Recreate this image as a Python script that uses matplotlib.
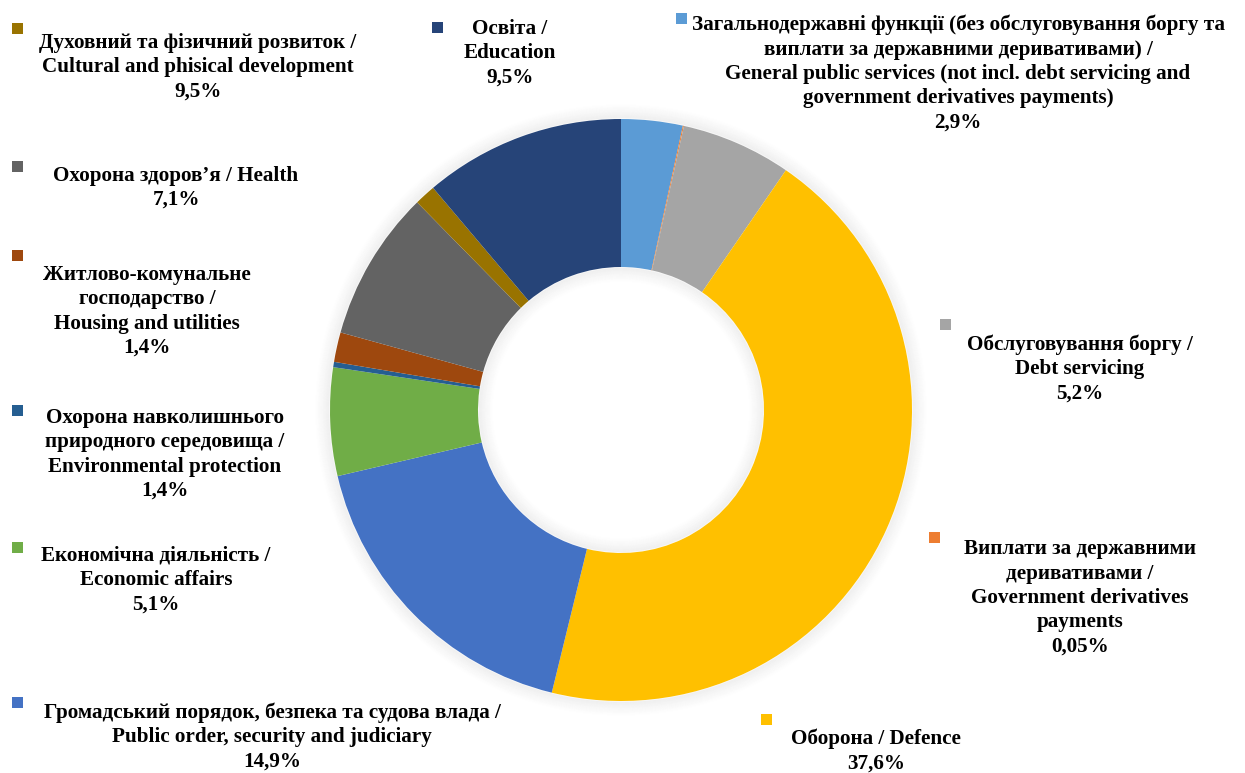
import matplotlib.pyplot as plt
from matplotlib.patches import Circle, Rectangle

# slice shares (as drawn) and the texts shown next to them
categories = ["general", "derivatives", "debt", "defence", "public_order", "economic",
              "environment", "housing", "health", "cultural", "education"]
slice_values = [2.9, 0.05, 5.2, 37.6, 14.9, 5.1, 0.25, 1.4, 7.1, 1.0, 9.5]
colors = ["#5B9BD5", "#ED7D31", "#A5A5A5", "#FFC000", "#4472C4", "#70AD47",
          "#255E91", "#9E480E", "#636363", "#997300", "#264478"]
label_texts = [
    "Загальнодержавні функції (без обслуговування боргу та\nвиплати за державними деривативами) /\nGeneral public services (not incl. debt servicing and\ngovernment derivatives payments)\n2,9%",
    "Виплати за державними\nдеривативами /\nGovernment derivatives\npayments\n0,05%",
    "Обслуговування боргу /\nDebt servicing\n5,2%",
    "Оборона / Defence\n37,6%",
    "Громадський порядок, безпека та судова влада /\nPublic order, security and judiciary\n14,9%",
    "Економічна діяльність /\nEconomic affairs\n5,1%",
    "Охорона навколишнього\nприродного середовища /\nEnvironmental protection\n1,4%",
    "Житлово-комунальне\nгосподарство /\nHousing and utilities\n1,4%",
    "Охорона здоров’я / Health\n7,1%",
    "Духовний та фізичний розвиток /\nCultural and phisical development\n9,5%",
    "Освіта /\nEducation\n9,5%",
]

W, H = 1245, 773
cx, cy, R, r_in = 621, 410, 291, 143
LINE = 24.7

# text centre x, first line y, legend square position (pixels)
text_x = [958, 1080, 1080, 876, 272, 156, 165, 147, 176, 198, 510]
text_y0 = [22, 546, 342, 736, 710, 553, 415, 272, 173, 40, 26]
mark_xy = [(681, 18), (934, 537), (945, 324), (766, 719), (17, 702), (17, 547),
           (17, 410), (17, 255), (17, 166), (17, 28), (437, 27)]

fig = plt.figure(figsize=(W / 100, H / 100), dpi=100)
ax = fig.add_axes([0, 0, 1, 1])

# soft glow around the ring
for i in range(14):
    a = 0.035 * (1 - i / 14)
    ax.add_patch(Circle((cx, cy), R + 1 + i, fill=False, lw=1.3, color="black", alpha=a, zorder=0))
    ax.add_patch(Circle((cx, cy), r_in - 1 - i, fill=False, lw=1.3, color="black", alpha=a, zorder=0))

ax.pie(slice_values, colors=colors, startangle=-90, counterclock=True,
       center=(cx, cy), radius=R,
       wedgeprops=dict(width=R - r_in, linewidth=0), frame=False)

ax.set_xlim(0, W)
ax.set_ylim(H, 0)
ax.set_aspect("equal")
ax.axis("off")

for txt, x, y0, (mx, my), c in zip(label_texts, text_x, text_y0, mark_xy, colors):
    n = txt.count("\n")
    ax.text(x, y0 + 2.5 + n * LINE / 2, txt, ha="center", va="center", fontsize=15.2,
            fontweight="bold", family="Liberation Serif", linespacing=1.29)
    ax.add_patch(Rectangle((mx - 5.5, my - 5.5), 11, 11, color=c, lw=0))

fig.savefig("out.png", dpi=100)
